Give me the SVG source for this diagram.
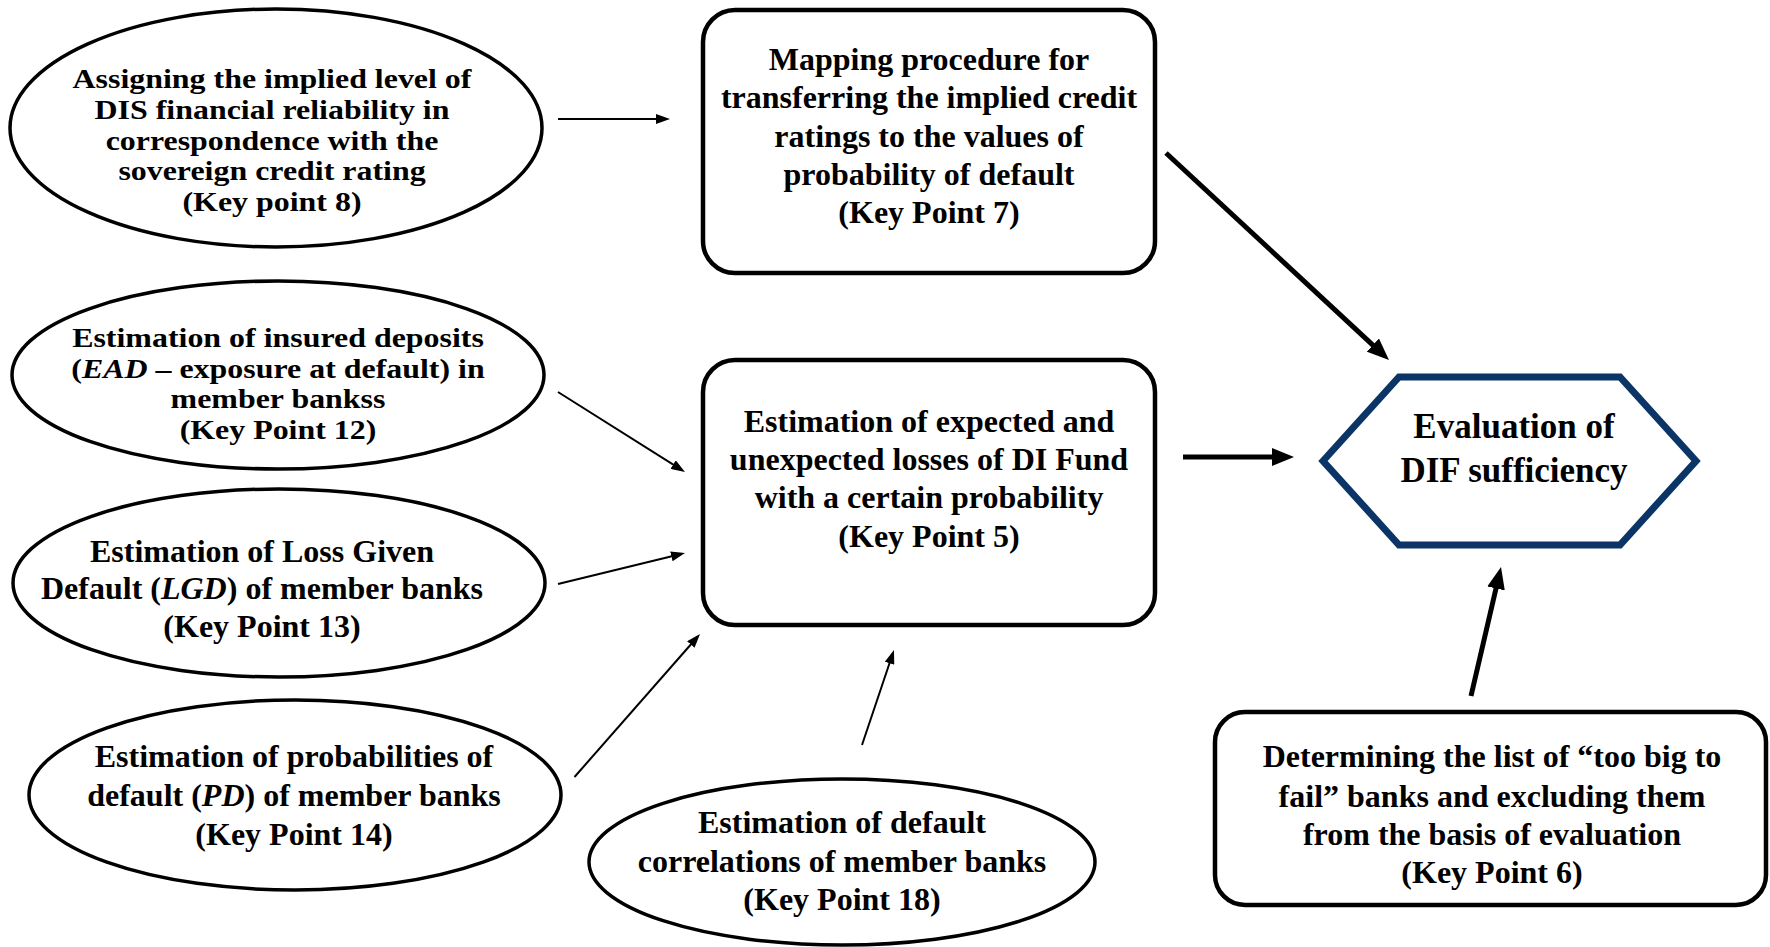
<svg xmlns="http://www.w3.org/2000/svg" width="1770" height="947" viewBox="0 0 1770 947">
<defs>
<style>
.t{font-family:"Liberation Serif","Times New Roman",serif;font-weight:bold;font-size:32px;fill:#000;text-anchor:middle}
.s{font-size:28px}
.h{font-size:35px}
.el{fill:#fff;stroke:#000;stroke-width:3.5}
.bx{fill:#fff;stroke:#000;stroke-width:4.5}
.hx{fill:#fff;stroke:#0B3566;stroke-width:7}
.thin{stroke:#000;stroke-width:2;fill:none}
.thick{stroke:#000;stroke-width:5;fill:none}
</style>
<marker id="ah" markerUnits="userSpaceOnUse" markerWidth="14" markerHeight="10" refX="10" refY="5" orient="auto">
<path d="M0,0 L14,5 L0,10 z" fill="#000"/>
</marker>
<marker id="ahb" markerUnits="userSpaceOnUse" markerWidth="22" markerHeight="18" refX="14" refY="9" orient="auto">
<path d="M0,0 L22,9 L0,18 z" fill="#000"/>
</marker>
</defs>
<rect width="1770" height="947" fill="#fff"/>

<g id="kp8">
<ellipse class="el" cx="276" cy="128" rx="266" ry="119"/>
<g transform="translate(272,0) scale(1.14,1)">
<text class="t s" x="0" y="88">Assigning the implied level of</text>
<text class="t s" x="0" y="119">DIS financial reliability in</text>
<text class="t s" x="0" y="150">correspondence with the</text>
<text class="t s" x="0" y="180">sovereign credit rating</text>
<text class="t s" x="0" y="211">(Key point 8)</text>
</g>
</g>

<g id="kp7">
<rect class="bx" x="703" y="10" width="452" height="263" rx="32"/>
<text class="t" x="929" y="70">Mapping procedure for</text>
<text class="t" x="929" y="108">transferring the implied credit</text>
<text class="t" x="929" y="147">ratings to the values of</text>
<text class="t" x="929" y="185">probability of default</text>
<text class="t" x="929" y="223">(Key Point 7)</text>
</g>

<g id="kp12">
<ellipse class="el" cx="278" cy="375" rx="266" ry="94"/>
<g transform="translate(278,0) scale(1.14,1)">
<text class="t s" x="0" y="347">Estimation of insured deposits</text>
<text class="t s" x="0" y="378">(<tspan font-style="italic">EAD</tspan> – exposure at default) in</text>
<text class="t s" x="0" y="408">member bankss</text>
<text class="t s" x="0" y="439">(Key Point 12)</text>
</g>
</g>

<g id="kp13">
<ellipse class="el" cx="279" cy="583" rx="266" ry="94"/>
<text class="t" x="262" y="562">Estimation of Loss Given</text>
<text class="t" x="262" y="599">Default (<tspan font-style="italic">LGD</tspan>) of member banks</text>
<text class="t" x="262" y="637">(Key Point 13)</text>
</g>

<g id="kp14">
<ellipse class="el" cx="295" cy="795" rx="266" ry="95"/>
<text class="t" x="294" y="767">Estimation of probabilities of</text>
<text class="t" x="294" y="806">default (<tspan font-style="italic">PD</tspan>) of member banks</text>
<text class="t" x="294" y="845">(Key Point 14)</text>
</g>

<g id="kp18">
<ellipse class="el" cx="842" cy="862" rx="253" ry="83"/>
<text class="t" x="842" y="833">Estimation of default</text>
<text class="t" x="842" y="872">correlations of member banks</text>
<text class="t" x="842" y="910">(Key Point 18)</text>
</g>

<g id="kp5">
<rect class="bx" x="703" y="360" width="452" height="265" rx="32"/>
<text class="t" x="929" y="432">Estimation of expected and</text>
<text class="t" x="929" y="470">unexpected losses of DI Fund</text>
<text class="t" x="929" y="508">with a certain probability</text>
<text class="t" x="929" y="547">(Key Point 5)</text>
</g>

<g id="dif">
<polygon class="hx" points="1323,461 1399,377 1620,377 1696,461 1620,545 1399,545"/>
<text class="t h" x="1514" y="438">Evaluation of</text>
<text class="t h" x="1514" y="482">DIF sufficiency</text>
</g>

<g id="kp6">
<rect class="bx" x="1215" y="712" width="551" height="193" rx="30"/>
<text class="t" x="1492" y="767">Determining the list of “too big to</text>
<text class="t" x="1492" y="807">fail” banks and excluding them</text>
<text class="t" x="1492" y="845">from the basis of evaluation</text>
<text class="t" x="1492" y="883">(Key Point 6)</text>
</g>

<g id="connectors">
<line class="thin" x1="558" y1="119" x2="666" y2="119" marker-end="url(#ah)"/>
<line class="thin" x1="558" y1="392" x2="681.6" y2="469.9" marker-end="url(#ah)"/>
<line class="thin" x1="558" y1="584" x2="681.1" y2="554" marker-end="url(#ah)"/>
<line class="thin" x1="574.5" y1="777" x2="697.4" y2="637" marker-end="url(#ah)"/>
<line class="thin" x1="862" y1="745" x2="892.7" y2="653.8" marker-end="url(#ah)"/>
<line class="thick" x1="1166" y1="153" x2="1383.1" y2="354.6" marker-end="url(#ahb)"/>
<line class="thick" x1="1183" y1="457" x2="1286" y2="457" marker-end="url(#ahb)"/>
<line class="thick" x1="1471" y1="696" x2="1499.2" y2="574.8" marker-end="url(#ahb)"/>
</g>
</svg>
